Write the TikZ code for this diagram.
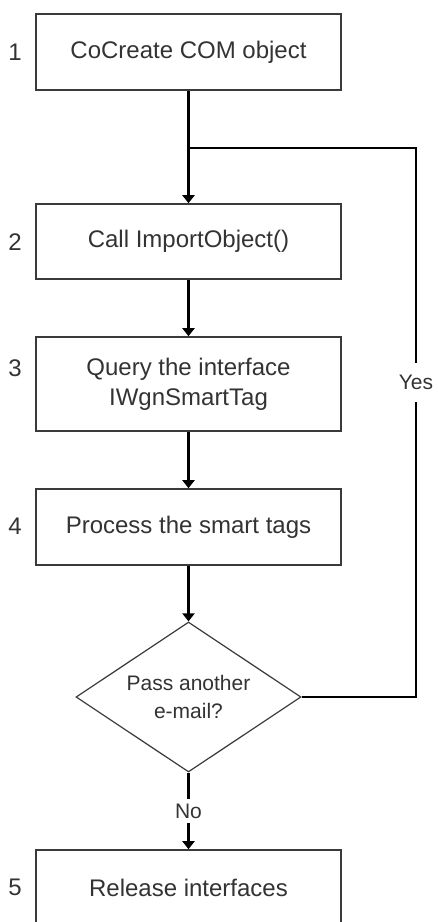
\documentclass[tikz,border=0pt]{standalone}
\usepackage{fontspec}
\setmainfont{Liberation Sans}
\usetikzlibrary{arrows.meta,shapes.geometric}
\definecolor{txt}{HTML}{333333}
\definecolor{edge}{HTML}{3A3A3A}
\begin{document}
\begin{tikzpicture}[x=1pt,y=-1pt,
  stepbox/.style={draw=edge, line width=1.6pt, rectangle, minimum width=305pt, inner sep=0pt, align=center, text=txt, font=\fontsize{24}{30}\selectfont},
  decide/.style={draw=edge, line width=1.2pt, diamond, minimum width=225pt, minimum height=150pt, inner sep=0pt, aspect=1.5, align=center, text=txt, font=\fontsize{21}{28}\selectfont},
  num/.style={text=txt, font=\fontsize{24}{30}\selectfont, inner sep=0pt},
  conn/.style={draw=black, line width=2.2pt},
  arr/.style={conn, -{Triangle[width=12pt,length=8pt]}},
  lbl/.style={fill=white, text=txt, font=\fontsize{21}{26}\selectfont, inner xsep=1pt}
]
\useasboundingbox (0,0) rectangle (437,922);
\fill[white] (0,0) rectangle (437,922);

\node[stepbox, minimum height=76pt] (b1) at (188.5,52) {CoCreate COM object};
\node[stepbox, minimum height=75pt] (b2) at (188.5,241.5) {Call ImportObject()};
\node[stepbox, minimum height=94pt] (b3) at (188.5,384) {Query the interface\\IWgnSmartTag};
\node[stepbox, minimum height=76pt] (b4) at (188.5,527) {Process the smart tags};
\node[decide] (d) at (188.5,697) {Pass another\\e-mail?};
\node[stepbox, minimum height=76pt] (b5) at (188.5,888) {Release interfaces};

\node[num] (n1) at (15,52) {1};
\node[num] (n2) at (15,242) {2};
\node[num] (n3) at (15,368) {3};
\node[num] (n4) at (15,526) {4};
\node[num] (n5) at (15,887) {5};

\coordinate (j) at (188.5,148);
\coordinate (r1) at (416,148);
\coordinate (r2) at (416,697);

\draw[arr] (b1.south) -- (b2.north);
\draw[arr] (b2.south) -- (b3.north);
\draw[arr] (b3.south) -- (b4.north);
\draw[arr] (b4.south) -- (d.north);
\draw[arr] (d.south) -- node[lbl, inner ysep=5pt] (no) {No} (b5.north);
\draw[conn, line join=miter] (d.east) -- (r2) -- node[lbl, pos=0.573, inner ysep=12pt] (yes) {Yes} (r1) -- (j);
\end{tikzpicture}
\end{document}
